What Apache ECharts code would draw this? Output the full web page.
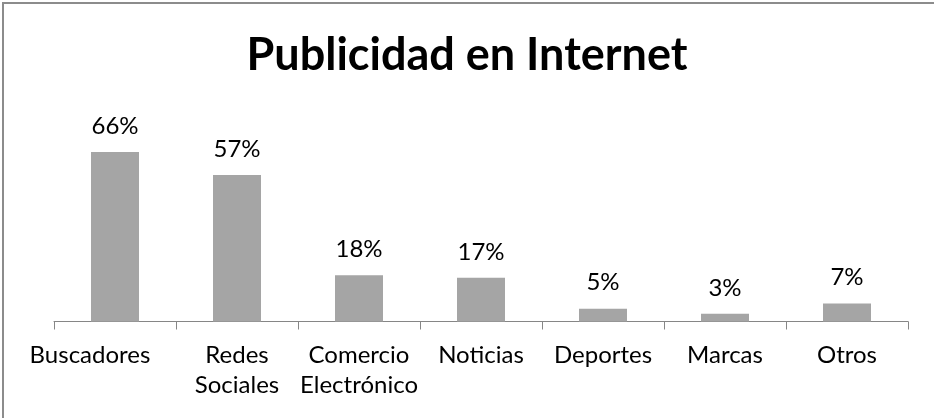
<!DOCTYPE html>
<html>
<head>
<meta charset="utf-8">
<script src="https://cdn.jsdelivr.net/npm/echarts@6/dist/echarts.min.js"></script>
<style>
  html, body { margin: 0; padding: 0; background: #fff; }
  #chart { width: 934px; height: 418px; }
</style>
</head>
<body>
<div id="chart"></div>
<script>
// Share of internet advertising by channel (%)
const categories = ['Buscadores', 'Redes\nSociales', 'Comercio\nElectrónico', 'Noticias', 'Deportes', 'Marcas', 'Otros'];
const values = [66, 57, 18, 17, 5, 3, 7];
const titleText = 'Publicidad en Internet';

const FONT = 'Lato, "Open Sans", sans-serif';

// the first label is nudged left so it stays inside the frame
const axisData = categories.map((c, i) =>
  i === 0 ? { value: c, textStyle: { padding: [0, 50, 0, 0] } } : c
);

const chart = echarts.init(document.getElementById('chart'), null, { renderer: 'canvas' });
chart.setOption({
  animation: false,
  backgroundColor: '#fff',
  title: {
    text: titleText,
    left: 'center',
    top: 28,
    textStyle: { fontFamily: FONT, fontSize: 45, fontWeight: 'bold', color: '#000' }
  },
  grid: { left: 54, right: 26, top: 141.6, bottom: 96.5, containLabel: false },
  xAxis: {
    type: 'category',
    data: axisData,
    axisLine: { lineStyle: { color: '#868686', width: 1 } },
    axisTick: { show: true, length: 8, lineStyle: { color: '#868686' } },
    axisLabel: {
      interval: 0,
      margin: 19,
      color: '#000',
      fontFamily: FONT,
      fontSize: 24,
      lineHeight: 30
    }
  },
  yAxis: {
    type: 'value',
    min: 0,
    max: 70,
    show: false,
    splitLine: { show: false }
  },
  series: [{
    type: 'bar',
    data: values,
    barWidth: 48,
    itemStyle: { color: '#a5a5a5' },
    label: {
      show: true,
      position: 'top',
      distance: 14,
      formatter: p => p.value + '%',
      color: '#000',
      fontFamily: FONT,
      fontSize: 24
    }
  }],
  graphic: [{
    // chart frame (top and left edges)
    type: 'polyline',
    shape: { points: [[3, 418], [3, 3], [934, 3]] },
    style: { fill: 'none', stroke: '#8c8c8c', lineWidth: 2 },
    silent: true
  }]
});
</script>
</body>
</html>
